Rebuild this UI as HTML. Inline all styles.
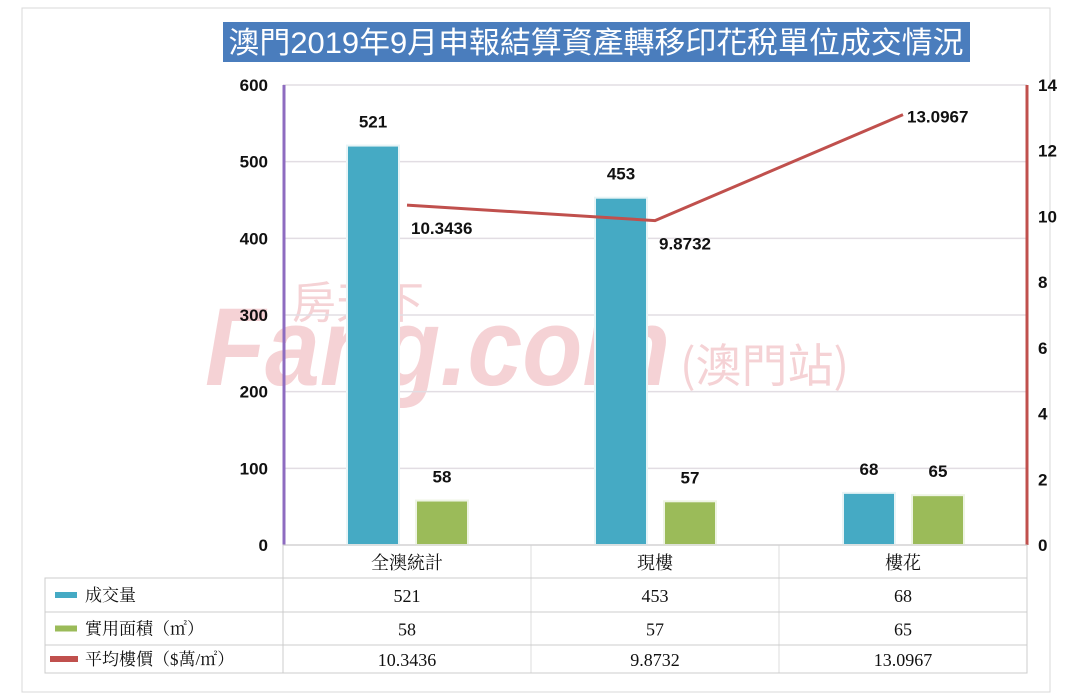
<!DOCTYPE html>
<html><head><meta charset="utf-8"><style>
body{margin:0;background:#fff;}
svg{display:block;font-family:"Liberation Sans","Noto Sans CJK TC",sans-serif;}
</style></head><body>
<svg id="c" width="1080" height="700" viewBox="0 0 1080 700">
<rect x="22" y="8" width="1028" height="684" fill="#fff" stroke="#d8d8d8"/>
<rect x="223" y="22" width="747" height="40" fill="#4a7dbd"/>
<text x="596" y="53" text-anchor="middle" fill="#fff" font-size="30" textLength="735" lengthAdjust="spacingAndGlyphs" font-family="'Liberation Sans','Noto Sans CJK TC',sans-serif">澳門2019年9月申報結算資產轉移印花稅單位成交情況</text>
<g id="wm" opacity="0.75">
<text x="205" y="385" fill="#f2c4c8" font-size="110" font-weight="bold" font-style="italic" textLength="465" lengthAdjust="spacingAndGlyphs">Fang.com</text>
<text x="292" y="318" fill="#f2c4c8" font-size="44" font-family="'Noto Sans CJK TC',sans-serif">房天下</text>
<text x="680" y="382" fill="#f2c4c8" font-size="46" font-family="'Noto Sans CJK TC',sans-serif">(澳門站)</text>
</g>
<g id="grid"></g><g id="bars"></g><g id="line"></g><g id="axes"></g><g id="table"></g>
</svg>
<script>
const categories=["全澳統計","現樓","樓花"];
const volume=[521,453,68];
const area=[58,57,65];
const price=[10.3436,9.8732,13.0967];
const leftTicks=[0,100,200,300,400,500,600];
const rightTicks=[0,2,4,6,8,10,12,14];
const priceLabels=["10.3436","9.8732","13.0967"];
const NS="http://www.w3.org/2000/svg";
const X0=283,X1=1027,Y0=545,Y1=85;
const colW=(X1-X0)/categories.length;
const yL=v=>Y0-(v/600)*(Y0-Y1);
const yR=v=>Y0-(v/14)*(Y0-Y1);
const xC=i=>X0+colW*(i+0.5);
function el(t,a,p,txt){const e=document.createElementNS(NS,t);for(const k in a)e.setAttribute(k,a[k]);if(txt!==undefined)e.textContent=txt;document.getElementById(p).appendChild(e);return e;}
leftTicks.forEach(v=>{
 const g=el('line',{x1:X0,x2:X1,y1:yL(v),y2:yL(v),stroke:'#e2dde3','stroke-width':1.5},'grid');
 
 
 const t=el('text',{x:268,y:yL(v)+6,'text-anchor':'end','font-size':17,'font-weight':'bold',fill:'#111'},'axes',String(v));
 
 
});
rightTicks.forEach(v=>{
 const t=el('text',{x:1038,y:yR(v)+6,'font-size':17,'font-weight':'bold',fill:'#111'},'axes',String(v));
 
 
});
for(let i=1;i<categories.length;i++){
 const d=el('line',{x1:X0+colW*i,x2:X0+colW*i,y1:Y0,y2:673,stroke:'#ddd'},'grid');
 
 
}
const la=el('line',{x1:X0+1,x2:X0+1,y1:Y1,y2:Y0,stroke:'#8e6cc0','stroke-width':3},'axes');


const ra=el('line',{x1:X1,x2:X1,y1:Y1,y2:Y0,stroke:'#c0504d','stroke-width':3},'axes');


const bw=52;
categories.forEach((c,i)=>{
 const cx=xC(i);
 const b=el('rect',{x:cx-34-bw/2,y:yL(volume[i]),width:bw,height:Y0-yL(volume[i]),fill:'#45aac4',stroke:'#e8f4f6','stroke-width':2},'bars');
 
 
 const g=el('rect',{x:cx+35-bw/2,y:yL(area[i]),width:bw,height:Y0-yL(area[i]),fill:'#9bbb59',stroke:'#eef4e4','stroke-width':2},'bars');
 
 
 const t1=el('text',{x:cx-34,y:yL(volume[i])-18,'text-anchor':'middle','font-size':17,'font-weight':'bold',fill:'#111'},'bars',String(volume[i]));
 
 
 const t2=el('text',{x:cx+35,y:yL(area[i])-18,'text-anchor':'middle','font-size':17,'font-weight':'bold',fill:'#111'},'bars',String(area[i]));
 
 
});
const pl=el('polyline',{points:price.map((v,i)=>xC(i)+','+yR(v)).join(' '),fill:'none',stroke:'#c0504d','stroke-width':3},'line');


price.forEach((v,i)=>{
 const off=i==2?[4,8]:[4,29];
 const t=el('text',{x:xC(i)+off[0],y:yR(v)+off[1],'font-size':17,'font-weight':'bold',fill:'#111'},'line',priceLabels[i]);
 
 
});
// table
const rows=[[545,578],[578,612],[612,645],[645,673]];
const tb=el('rect',{x:45,y:578,width:X1-45,height:95,fill:'none',stroke:'#ccc'},'table');


const hb=el('rect',{x:X0,y:545,width:X1-X0,height:33,fill:'none',stroke:'#ccc'},'table');


[612,645].forEach(y=>{const l=el('line',{x1:45,x2:X1,y1:y,y2:y,stroke:'#ccc'},'table');
 
 });
const vl=el('line',{x1:X0,x2:X0,y1:545,y2:673,stroke:'#ccc'},'table');


const font="'Liberation Serif','Noto Serif CJK SC',serif";
categories.forEach((c,i)=>{
 const t=el('text',{x:xC(i),y:569,'text-anchor':'middle','font-size':18,'font-family':font,fill:'#111'},'table',c);
 
 
});
const series=[["成交量","#45aac4",volume.map(String)],["實用面積（㎡）","#9bbb59",area.map(String)],["平均樓價（$萬/㎡）","#c0504d",priceLabels]];
series.forEach((s,r)=>{
 const yc=(rows[r+1][0]+rows[r+1][1])/2;
 const k=el('rect',{x:r==2?50:55,y:yc-3,width:r==2?28:22,height:6,fill:s[1]},'table');
 
 
 const n=el('text',{x:85,y:yc+6,'font-size':17,'font-family':font,fill:'#111'},'table',s[0]);
 
 
 s[2].forEach((v,i)=>{
  const t=el('text',{x:xC(i),y:yc+7,'text-anchor':'middle','font-size':18,'font-family':font,fill:'#111'},'table',v);
  
  
 });
});
</script>
</body></html>
